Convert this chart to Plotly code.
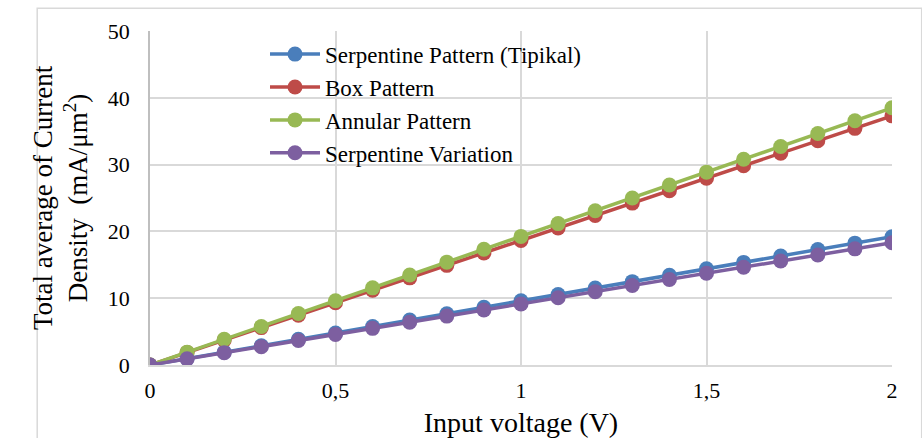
import plotly.graph_objects as go

voltage = [0, 0.1, 0.2, 0.3, 0.4, 0.5, 0.6, 0.7, 0.8, 0.9, 1.0,
           1.1, 1.2, 1.3, 1.4, 1.5, 1.6, 1.7, 1.8, 1.9, 2.0]
serpentine_tipikal = [0, 0.96, 1.92, 2.88, 3.84, 4.8, 5.76, 6.72, 7.68, 8.64, 9.6,
                      10.56, 11.52, 12.48, 13.44, 14.4, 15.36, 16.32, 17.28, 18.24, 19.2]
box_pattern = [0, 1.86, 3.73, 5.6, 7.46, 9.32, 11.19, 13.05, 14.92, 16.78, 18.65,
               20.5, 22.38, 24.24, 26.1, 27.97, 29.84, 31.7, 33.57, 35.43, 37.3]
annular_pattern = [0, 1.92, 3.85, 5.77, 7.7, 9.62, 11.55, 13.47, 15.4, 17.32, 19.25,
                   21.17, 23.1, 25.0, 26.95, 28.87, 30.8, 32.7, 34.65, 36.57, 38.5]
serpentine_variation = [0, 0.92, 1.83, 2.75, 3.66, 4.58, 5.49, 6.41, 7.32, 8.24, 9.15,
                        10.07, 10.98, 11.9, 12.81, 13.73, 14.64, 15.56, 16.47, 17.39, 18.3]

series_names = ["Serpentine Pattern (Tipikal)", "Box Pattern", "Annular Pattern", "Serpentine Variation"]
series_values = [serpentine_tipikal, box_pattern, annular_pattern, serpentine_variation]
series_colors = ["#4a7ebb", "#be4b48", "#98b954", "#7d5fa0"]

x_tickvals = [0, 0.5, 1, 1.5, 2]
x_ticktext = ["0", "0,5", "1", "1,5", "2"]
y_tickvals = [0, 10, 20, 30, 40, 50]

font_family = "Liberation Serif"

fig = go.Figure()
for name, vals, col in zip(series_names, series_values, series_colors):
    fig.add_trace(go.Scatter(
        x=voltage, y=vals, name=name, mode="lines+markers",
        line=dict(color=col, width=3.5),
        marker=dict(color=col, size=15),
    ))

fig.update_layout(
    width=922, height=438,
    margin=dict(l=150, r=30, t=31, b=73),
    paper_bgcolor="white", plot_bgcolor="white",
    font=dict(family=font_family, color="black", size=22),
    showlegend=True,
    legend=dict(
        x=0.155, y=0.995, xanchor="left", yanchor="top",
        bgcolor="rgba(255,255,255,0)",
        font=dict(size=23, family=font_family, color="black"),
        tracegroupgap=0, itemwidth=50,
    ),
    xaxis=dict(
        range=[0, 2], tickvals=x_tickvals, ticktext=x_ticktext, automargin=False,
        showgrid=True, gridcolor="#d9d9d9", gridwidth=1.5,
        zeroline=False, showline=True, linecolor="#d9d9d9", linewidth=1.5,
        ticks="", tickfont=dict(size=22, family=font_family, color="black"), ticklabelstandoff=5,
        title=dict(text="Input voltage (V)", font=dict(size=28, family=font_family, color="black"), standoff=16),
    ),
    yaxis=dict(
        range=[0, 50], tickvals=y_tickvals, automargin=False,
        showgrid=True, gridcolor="#d9d9d9", gridwidth=1.5,
        zeroline=False, showline=True, linecolor="#bfbfbf", linewidth=1.5,
        ticks="", tickfont=dict(size=22, family=font_family, color="black"), ticklabelstandoff=14,
        title=dict(text="Total average of Current<br>Density  (mA/μm<sup>2</sup>)",
                   font=dict(size=27, family=font_family, color="black"), standoff=12),
    ),
    shapes=[dict(type="rect", xref="paper", yref="paper",
                 x0=-0.152, x1=1.04, y0=-0.25, y1=1.068,
                 line=dict(color="#d9d9d9", width=1.5), layer="below")],
)

fig.write_html("out.html")
